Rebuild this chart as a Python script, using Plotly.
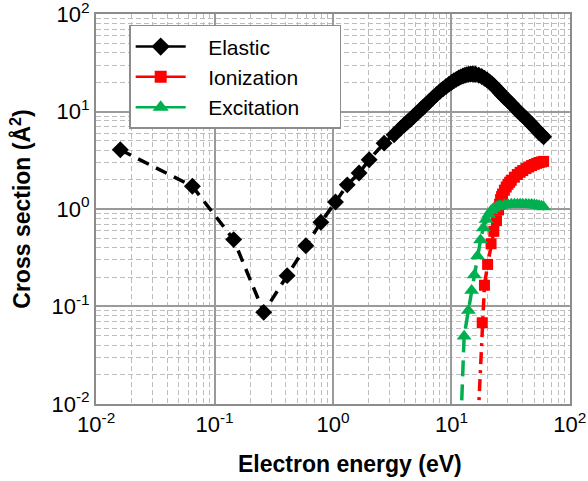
import plotly.graph_objects as go

# ---- data ----
elastic_x = [0.016, 0.065, 0.145, 0.26, 0.41, 0.59, 0.79, 1.05, 1.32, 1.66, 2.02, 2.7, 3.28, 3.74,
             4.0, 4.25, 4.5, 4.75, 5.0, 5.25, 5.5, 5.75, 6.0, 6.5, 7.0, 7.5, 8.0, 8.5, 9.0, 9.5,
             10.0, 10.5, 11.0, 11.5, 12.0, 12.5, 13.0, 13.5, 14.0, 14.5, 15.0, 15.5,
             16.0, 17.0, 18.0, 19.0, 20.0, 21.0, 22.0, 23.0, 24.0, 25.0, 26.0, 27.0, 28.0, 29.0,
             30.0, 32.0, 34.0, 36.0, 38.0, 40.0, 42.5, 45.0, 47.5, 50.0, 52.5, 55.0, 57.5, 60.0]
elastic_y = [4.05, 1.71, 0.485, 0.087, 0.207, 0.42, 0.73, 1.18, 1.77, 2.34, 3.2, 4.74, 5.77, 6.76,
             7.3, 7.8, 8.3, 8.85, 9.4, 9.9, 10.5, 11.0, 11.6, 12.7, 13.9, 15.0, 16.1, 17.1, 18.1, 19.0,
             19.9, 20.7, 21.4, 22.1, 22.7, 23.2, 23.6, 23.9, 24.1, 24.3, 24.3, 24.2,
             24.1, 23.6, 22.9, 22.0, 21.1, 20.1, 19.2, 18.2, 17.2, 16.3, 15.4, 14.7, 14.0, 13.5,
             13.0, 12.0, 11.1, 10.3, 9.6, 9.1, 8.5, 7.9, 7.4, 6.9, 6.5, 6.1, 5.8, 5.5]

ionization_x = [16.0, 18.2, 19.0, 20.2, 21.6, 22.8, 24.0, 25.0, 25.5, 26.0, 26.5, 27.0, 28.0, 29.0,
                30.0, 31.0, 32.0, 34.0, 36.0, 38.0, 40.0, 42.5, 45.0, 47.5, 50.0, 52.5, 55.0,
                57.5, 60.0]
ionization_y = [0.002, 0.068, 0.165, 0.27, 0.44, 0.59, 0.76, 0.98, 1.12, 1.25, 1.34, 1.42, 1.56, 1.68,
                1.79, 1.88, 1.97, 2.12, 2.26, 2.38, 2.48, 2.6, 2.7, 2.79, 2.87, 2.94, 3.0,
                3.04, 3.08]

excitation_x = [11.8, 12.8, 13.9, 14.8, 15.6, 16.6, 17.6, 18.6, 19.6, 20.6, 21.6, 22.6, 24.0,
                25.0, 26.0, 28.0, 30.0, 32.0, 34.0, 36.0, 38.0, 40.0, 42.5, 45.0, 47.5, 50.0,
                52.5, 55.0, 57.5, 60.0]
excitation_y = [0.0035, 0.0495, 0.091, 0.146, 0.21, 0.33, 0.48, 0.64, 0.78, 0.88, 0.96, 1.01, 1.05,
                1.07, 1.08, 1.1, 1.11, 1.12, 1.12, 1.12, 1.12, 1.12, 1.12, 1.11, 1.11, 1.1,
                1.09, 1.08, 1.07, 1.05]

series_names = ["Elastic", "Ionization", "Excitation"]
tick_vals = [0.01, 0.1, 1, 10, 100]
tick_text = ["10<sup>-2</sup>", "10<sup>-1</sup>", "10<sup>0</sup>", "10<sup>1</sup>", "10<sup>2</sup>"]
x_title = "Electron energy (eV)"
y_title = "Cross section (Å<sup>2</sup>)"

FONT = "Arial, Liberation Sans, sans-serif"
BLACK, RED, GREEN = "#000000", "#FF0000", "#00B050"
NB = "\u00a0"

fig = go.Figure()

styles = [
    (elastic_x, elastic_y, BLACK, "diamond", 13, "12px,8px"),
    (ionization_x, ionization_y, RED, "square", 11, "12px,6px,3px,6px"),
    (excitation_x, excitation_y, GREEN, "triangle-up", 13, "16px,8px"),
]
for (xs, ys, col, sym, size, dash), name in zip(styles, series_names):
    fig.add_trace(go.Scatter(
        x=xs, y=ys, mode="lines+markers", showlegend=False,
        line=dict(color=col, width=3.5, dash=dash),
        marker=dict(symbol=sym, size=size, color=col, line=dict(width=0)),
    ))
# legend entries (solid line + marker as in the reference legend)
for (xs, ys, col, sym, size, dash), name in zip(styles, series_names):
    fig.add_trace(go.Scatter(
        x=[None], y=[None], mode="lines+markers",
        name=NB * 3 + name + NB * 6,
        line=dict(color=col, width=2.5),
        marker=dict(symbol=sym, size=size + 1, color=col, line=dict(width=0)),
    ))

axis_common = dict(
    type="log",
    tickmode="array", tickvals=tick_vals, ticktext=tick_text,
    showgrid=True, gridcolor="#9a9a9a", gridwidth=1.5,
    minor=dict(showgrid=True, gridcolor="#bdbdbd", gridwidth=1, griddash="5px,3px", dtick="D1"),
    showline=True, linecolor="#8c8c8c", linewidth=2, mirror=True,
    ticks="", zeroline=False, ticklabeloverflow="allow",
    tickfont=dict(family=FONT, size=22, color="#000000"),
)

fig.update_xaxes(range=[-2.001, 2.001], **axis_common)
fig.update_yaxes(range=[-2.001, 2.001], **axis_common,
                 title=dict(text="<b>" + y_title + "</b>",
                            font=dict(family=FONT, size=23, color="#000000"), standoff=14))

fig.add_annotation(text="<b>" + x_title + "</b>", xref="paper", yref="paper",
                   x=0.536, y=-0.154, xanchor="center", yanchor="middle", showarrow=False,
                   font=dict(family=FONT, size=23, color="#000000"))

fig.update_layout(
    width=588, height=481,
    margin=dict(l=96, r=18, t=14, b=77, autoexpand=False),
    plot_bgcolor="#ffffff", paper_bgcolor="#ffffff",
    legend=dict(x=0.07, y=0.972, xanchor="left", yanchor="top",
                bgcolor="#ffffff", bordercolor="#8c8c8c", borderwidth=1.5,
                font=dict(family=FONT, size=21, color="#000000"),
                itemwidth=50, tracegroupgap=0),
)

fig.write_html("out.html")
